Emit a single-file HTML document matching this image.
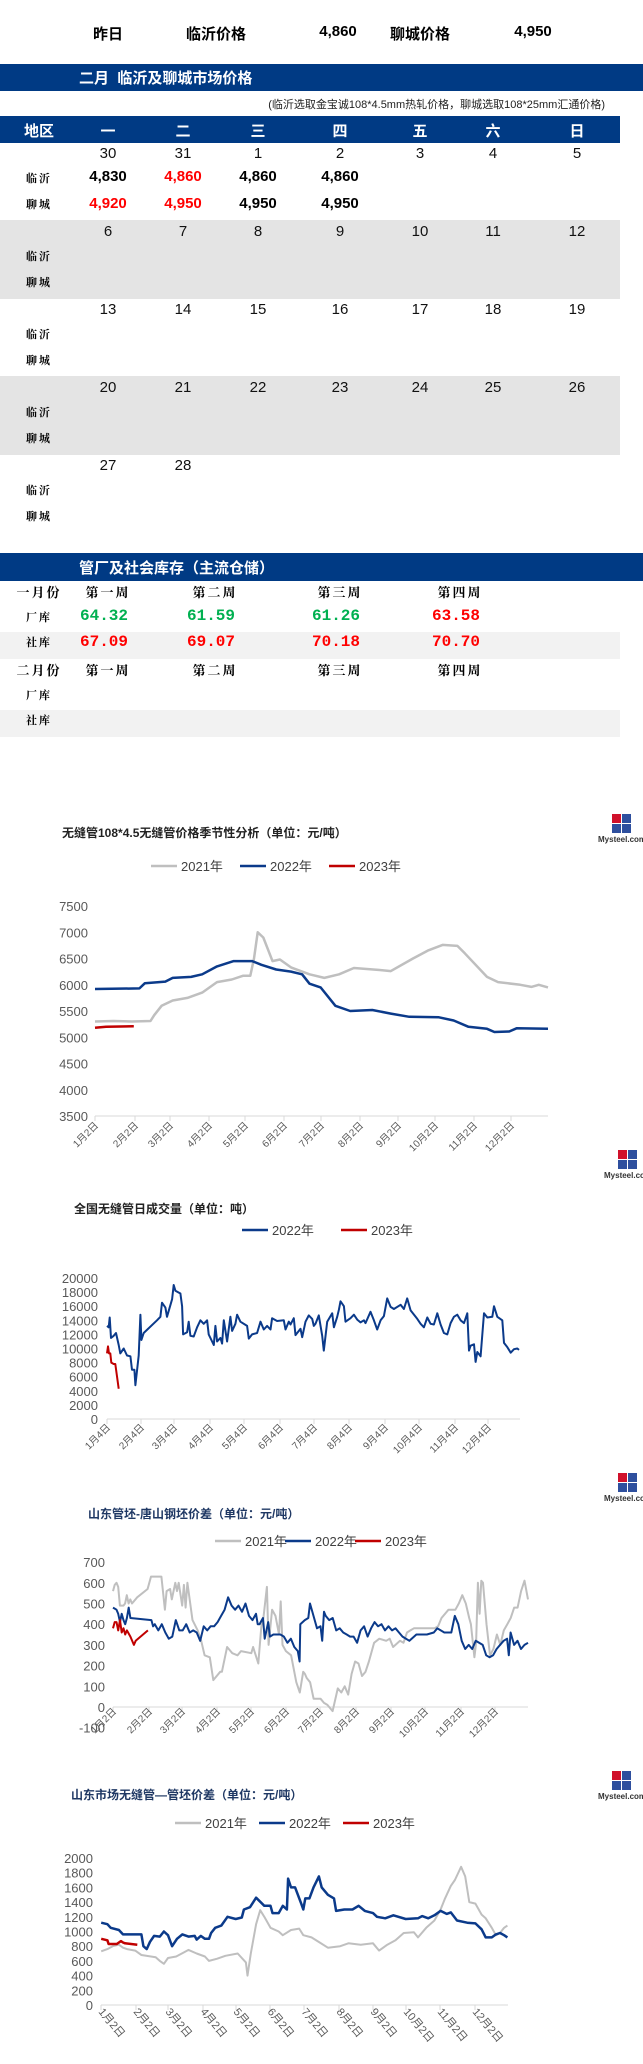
<!DOCTYPE html>
<html><head><meta charset="utf-8">
<style>
body{margin:0;background:#fff;}
#p{position:relative;width:643px;height:2064px;overflow:hidden;font-family:"Liberation Sans","Noto Sans CJK SC",sans-serif;}
.a{position:absolute;white-space:nowrap;}
.c{transform:translateX(-50%);}
.b{font-weight:bold;}
.lab{font-family:"Noto Serif CJK SC",serif;font-weight:bold;font-size:11px;letter-spacing:2px;}
.num{font-size:15px;font-weight:bold;}
.dt{font-size:15px;color:#111;}
.wk{font-family:"Noto Serif CJK SC",serif;font-weight:bold;font-size:13px;letter-spacing:2px;}
.iv{font-family:"Liberation Mono",monospace;font-size:16px;font-weight:bold;}
svg text{font-family:"Liberation Sans","Noto Sans CJK SC",sans-serif;}
</style></head><body><div id="p">
<div class="a b c" style="left:108px;top:23px;font-size:15px">昨日</div>
<div class="a b c" style="left:216px;top:23px;font-size:15px">临沂价格</div>
<div class="a b c" style="left:338px;top:23px;font-size:15px">4,860</div>
<div class="a b c" style="left:420px;top:23px;font-size:15px">聊城价格</div>
<div class="a b c" style="left:533px;top:23px;font-size:15px">4,950</div>
<div class="a" style="left:0;top:64px;width:643px;height:27px;background:#003a84"></div>
<div class="a b" style="left:79px;top:67px;color:#fff;font-size:15px">二月&nbsp; 临沂及聊城市场价格</div>
<div class="a" style="right:38px;top:96px;font-size:11px;color:#222">(临沂选取金宝诚108*4.5mm热轧价格，聊城选取108*25mm汇通价格)</div>
<div class="a" style="left:0;top:116px;width:620px;height:27px;background:#003a84"></div>
<div class="a b c" style="left:39px;top:120px;color:#fff;font-size:15px">地区</div>
<div class="a b c" style="left:108px;top:120px;color:#fff;font-size:15px">一</div>
<div class="a b c" style="left:183px;top:120px;color:#fff;font-size:15px">二</div>
<div class="a b c" style="left:258px;top:120px;color:#fff;font-size:15px">三</div>
<div class="a b c" style="left:340px;top:120px;color:#fff;font-size:15px">四</div>
<div class="a b c" style="left:420px;top:120px;color:#fff;font-size:15px">五</div>
<div class="a b c" style="left:493px;top:120px;color:#fff;font-size:15px">六</div>
<div class="a b c" style="left:577px;top:120px;color:#fff;font-size:15px">日</div>
<div class="a" style="left:0;top:220px;width:620px;height:79px;background:#e4e4e4"></div>
<div class="a" style="left:0;top:376px;width:620px;height:79px;background:#e4e4e4"></div>
<div id="cal"></div>
<div class="a" style="left:0;top:553px;width:643px;height:28px;background:#003a84"></div>
<div class="a b" style="left:79px;top:557px;color:#fff;font-size:15px">管厂及社会库存（主流仓储）</div>
<div class="a" style="left:0;top:632px;width:620px;height:27px;background:#f2f2f2"></div>
<div class="a" style="left:0;top:710px;width:620px;height:27px;background:#f2f2f2"></div>
<div id="inv"></div>
<svg id="sv" class="a" style="left:0;top:0" width="643" height="2064" xmlns="http://www.w3.org/2000/svg"></svg>
</div>
<script>
var cal=document.getElementById('cal'),h='';
var xs=[108,183,258,340,420,493,577];
var weeks=[[30,31,1,2,3,4,5],[6,7,8,9,10,11,12],[13,14,15,16,17,18,19],[20,21,22,23,24,25,26],[27,28]];
var tops=[145,223,301,379,457];
weeks.forEach(function(w,i){var t=tops[i];
w.forEach(function(d,j){h+='<div class="a c dt" style="left:'+xs[j]+'px;top:'+t+'px">'+d+'</div>';});
h+='<div class="a c lab" style="left:39px;top:'+(t+25)+'px">临沂</div><div class="a c lab" style="left:39px;top:'+(t+51)+'px">聊城</div>';});
var ly=[['4,830','#000'],['4,860','#f00'],['4,860','#000'],['4,860','#000']],lc=[['4,920','#f00'],['4,950','#f00'],['4,950','#000'],['4,950','#000']];
for(var j=0;j<4;j++){h+='<div class="a c num" style="left:'+xs[j]+'px;top:168px;color:'+ly[j][1]+'">'+ly[j][0]+'</div>';
h+='<div class="a c num" style="left:'+xs[j]+'px;top:195px;color:'+lc[j][1]+'">'+lc[j][0]+'</div>';}
cal.innerHTML=h;
h='';var ix=[108,215,340,460];var wk=['第一周','第二周','第三周','第四周'];
[[582,'一月份'],[660,'二月份']].forEach(function(r){h+='<div class="a c wk" style="left:39px;top:'+r[0]+'px">'+r[1]+'</div>';
ix.forEach(function(x,k){h+='<div class="a c wk" style="left:'+x+'px;top:'+r[0]+'px">'+wk[k]+'</div>';});
h+='<div class="a c lab" style="left:39px;top:'+(r[0]+27)+'px">厂库</div><div class="a c lab" style="left:39px;top:'+(r[0]+52)+'px">社库</div>';});
var g='#00b050',rd='#f00';
[['64.32',g],['61.59',g],['61.26',g],['63.58',rd]].forEach(function(v,k){h+='<div class="a c iv" style="left:'+(ix[k]-4)+'px;top:607px;color:'+v[1]+'">'+v[0]+'</div>';});
[['67.09',rd],['69.07',rd],['70.18',rd],['70.70',rd]].forEach(function(v,k){h+='<div class="a c iv" style="left:'+(ix[k]-4)+'px;top:633px;color:'+v[1]+'">'+v[0]+'</div>';});
document.getElementById('inv').innerHTML=h;

var S='';var GR='#bfbfbf',BL='#0b3a8a',RD='#c00000';
function line(pts,col,w){S+='<polyline fill="none" stroke="'+col+'" stroke-width="'+w+'" stroke-linejoin="round" points="'+pts.map(function(p){return p[0].toFixed(1)+','+p[1].toFixed(1)}).join(' ')+'"/>';}
function txt(x,y,s,attrs){S+='<text x="'+x+'" y="'+y+'" '+(attrs||'')+'>'+s+'</text>';}
var TA='font-size="12" font-weight="bold" font-family="Noto Serif CJK SC, serif"';
function logo(x,y){S+='<rect x="'+(x+24)+'" y="'+y+'" width="9" height="9" fill="#d0112b"/><rect x="'+(x+34)+'" y="'+y+'" width="9" height="9" fill="#2e4f9e"/><rect x="'+(x+24)+'" y="'+(y+10)+'" width="9" height="9" fill="#2e4f9e"/><rect x="'+(x+34)+'" y="'+(y+10)+'" width="9" height="9" fill="#2e4f9e"/>';
txt(x+10,y+28,'Mysteel.com','font-size="8" font-weight="bold" fill="#333"');}
function legend(y,items){items.forEach(function(it){S+='<line x1="'+it[0]+'" y1="'+y+'" x2="'+(it[0]+26)+'" y2="'+y+'" stroke="'+it[2]+'" stroke-width="2.5"/>';txt(it[0]+30,y+5,it[1],'font-size="13" fill="#404040"');});}
function yaxis(vals,xr,yf){vals.forEach(function(v){txt(xr,yf(v)+5,v,'font-size="13" fill="#595959" text-anchor="end"');});}
function xaxis(x0,x1,y,ticks,labs,ly,dir){S+='<line x1="'+x0+'" y1="'+y+'" x2="'+x1+'" y2="'+y+'" stroke="#d9d9d9"/>';
ticks.forEach(function(t,i){S+='<line x1="'+t+'" y1="'+y+'" x2="'+t+'" y2="'+(y+5)+'" stroke="#d9d9d9"/>';
if(dir<0)S+='<text font-size="10" fill="#595959" text-anchor="end" transform="translate('+(t+4)+','+ly+') rotate(-45)">'+labs[i]+'</text>';
else S+='<text font-size="11" fill="#595959" transform="translate('+(t-3)+','+ly+') rotate(50)">'+labs[i]+'</text>';});}
function mk(d){var m=[];for(var i=1;i<=12;i++)m.push(i+'月'+d+'日');return m;}
function tserie(arr,x0,x1,tmax,yf){return arr.map(function(p){return [x0+p[0]/tmax*(x1-x0),yf(p[1])];});}
function pairs(a){var r=[];for(var i=0;i<a.length;i+=2)r.push([a[i],a[i+1]]);return r;}

// Chart 1
txt(62,837,'无缝管108*4.5无缝管价格季节性分析（单位：元/吨）',TA+' fill="#222"');
logo(588,814);logo(594,1150);
legend(866,[[151,'2021年',GR],[240,'2022年',BL],[329,'2023年',RD]]);
var y1=function(v){return 1116-(v-3500)/500*26.25;};
yaxis([7500,7000,6500,6000,5500,5000,4500,4000,3500],88,y1);
xaxis(95,548,1116,[95,135,170,209,245,284,321,360,398,435,474,511],mk(2),1126,-1);
line(tserie(pairs([0,5300,.5,5310,1,5300,1.5,5310,1.6,5420,1.8,5600,2.1,5700,2.5,5750,2.9,5850,3.3,6050,3.7,6100,4,6170,4.2,6170,4.3,6500,4.4,7000,4.55,6900,4.8,6450,5,6480,5.3,6330,5.8,6200,6.2,6130,6.6,6200,7,6320,7.7,6280,8,6260,8.6,6500,9,6650,9.4,6760,9.8,6740,10,6600,10.6,6150,10.9,6050,11.5,6000,11.8,5960,12,6000,12.25,5950]),95,548,12.25,y1),GR,2.5);
line(tserie(pairs([0,5920,1.2,5930,1.35,6030,1.9,6060,2.1,6130,2.6,6150,2.9,6200,3.3,6350,3.75,6450,4.25,6450,4.5,6380,4.9,6290,5.3,6250,5.6,6200,5.8,6020,6.1,5950,6.5,5600,6.9,5500,7.5,5520,8,5450,8.5,5390,9.3,5380,9.7,5320,10.1,5200,10.6,5160,10.8,5100,11.2,5110,11.4,5170,12.25,5160]),95,548,12.25,y1),BL,2.5);
line(tserie(pairs([0,5180,.3,5200,1.05,5210]),95,548,12.25,y1),RD,2.5);

// Chart 2
txt(74,1213,'全国无缝管日成交量（单位：吨）',TA+' fill="#222"');
legend(1230,[[242,'2022年',BL],[341,'2023年',RD]]);
var y2=function(v){return 1419-v/20000*141;};
yaxis([20000,18000,16000,14000,12000,10000,8000,6000,4000,2000,0],98,y2);
xaxis(107,520,1419,[107,141,174,210,244,280,314,349,385,419,455,488],mk(4),1428,-1);
line(tserie(pairs([0,13200,.05,13000,.08,14400,.12,11500,.2,11800,.27,12200,.35,10500,.4,9300,.5,10000,.6,9000,.7,8900,.75,7000,.82,7000,.85,4800,.95,9000,1.0,14800,1.03,11200,1.1,12200,1.5,14000,1.6,14500,1.65,16500,1.75,15800,1.8,14500,1.95,17000,2.0,19000,2.05,18200,2.2,17800,2.25,16000,2.28,12000,2.4,12300,2.45,13800,2.5,11800,2.6,11700,2.7,13000,2.8,14000,2.9,13500,3.0,14000,3.05,12000,3.2,10500,3.25,13200,3.3,11000,3.4,11500,3.45,10700,3.5,14000,3.6,11000,3.7,14500,3.75,12500,3.85,13500,3.9,14800,4.0,13800,4.2,13200,4.25,11400,4.35,12000,4.5,12200,4.6,13800,4.7,12700,4.8,13200,4.9,12700,4.95,14300,5.1,13900,5.3,14000,5.35,12700,5.45,13800,5.5,13400,5.6,14300,5.65,11900,5.8,12800,5.85,11600,5.95,13800,6.05,14700,6.15,14200,6.2,13200,6.25,13500,6.35,14700,6.45,11800,6.5,9700,6.6,13800,6.75,15000,6.8,13000,6.9,14500,6.95,15500,7.0,16700,7.1,16000,7.15,13800,7.3,14300,7.4,14800,7.5,14100,7.6,13700,7.7,14000,7.75,13600,7.9,15200,8.0,14000,8.1,12700,8.2,14000,8.3,14600,8.4,17100,8.5,15900,8.6,15600,8.8,16200,8.9,15600,9.0,17100,9.1,15400,9.3,14200,9.4,13500,9.5,13000,9.6,14400,9.7,13500,9.8,13400,9.9,15000,10.0,13400,10.1,12200,10.2,12000,10.3,13600,10.4,14500,10.5,14800,10.6,14000,10.7,13600,10.8,15000,10.85,9700,10.9,10400,11.0,10600,11.05,8100,11.1,9500,11.2,8900,11.3,15000,11.4,14400,11.55,14500,11.6,16000,11.7,14500,11.85,14000,11.9,10800,12.0,10200,12.1,9400,12.2,9900,12.3,10000,12.35,9800]),107,519,12.35,y2),BL,2);
line(tserie(pairs([0,9300,.03,10300,.06,9300,.1,9300,.13,8000,.2,7800,.25,7800,.35,4300]),107,519,12.35,y2),RD,2);

// Chart 3
logo(594,1473);
txt(88,1518,'山东管坯-唐山钢坯价差（单位：元/吨）',TA+' fill="#1f3864"');
legend(1541,[[215,'2021年',GR],[285,'2022年',BL],[355,'2023年',RD]]);
var y3=function(v){return 1707-v/100*20.7;};
yaxis([700,600,500,400,300,200,100,0,-100],105,y3);
xaxis(113,528,1707,[113,149,182,217,251,286,320,356,391,425,461,495],mk(2),1712,-1);
line(tserie(pairs([0,560,.05,590,.1,600,.15,580,.2,490,.3,490,.35,500,.4,540,.45,500,.5,520,.55,500,.7,530,1.0,570,1.05,600,1.1,630,1.4,630,1.5,470,1.55,560,1.65,570,1.7,520,1.8,600,1.85,560,1.9,600,2.0,490,2.05,590,2.1,480,2.15,600,2.3,420,2.45,370,2.55,320,2.65,250,2.8,240,2.9,130,3.1,170,3.15,170,3.3,290,3.45,260,3.6,250,3.7,270,4.0,260,4.05,290,4.2,210,4.3,410,4.35,430,4.45,580,4.5,300,4.6,470,4.7,440,4.8,350,4.85,510,4.9,300,5.0,270,5.15,250,5.3,120,5.4,70,5.5,170,5.55,160,5.6,140,5.7,120,5.8,40,6.0,40,6.1,20,6.2,10,6.35,-20,6.5,90,6.6,70,6.7,100,6.8,60,6.9,160,7.0,220,7.1,210,7.2,150,7.3,170,7.4,220,7.55,310,7.7,330,7.9,320,8.0,330,8.1,290,8.3,320,8.4,310,8.5,360,8.6,370,8.7,380,9.3,380,9.4,390,9.5,430,9.7,470,9.9,470,10.0,500,10.1,540,10.2,500,10.3,430,10.35,400,10.45,240,10.5,310,10.55,600,10.6,450,10.65,610,10.7,600,10.8,400,10.9,250,11.0,280,11.1,350,11.2,300,11.3,370,11.4,400,11.5,430,11.6,480,11.7,480,11.8,560,11.9,610,12.0,520]),113,528,12,y3),GR,2);
line(tserie(pairs([0,480,.1,470,.15,450,.2,410,.25,450,.3,420,.35,400,.4,430,.45,480,.5,430,1.1,420,1.15,390,1.2,400,1.3,370,1.4,400,1.5,360,1.6,330,1.7,340,1.8,420,1.9,370,2.0,370,2.1,400,2.2,360,2.3,370,2.4,360,2.5,320,2.6,390,2.7,370,2.8,390,2.9,390,3.0,410,3.1,440,3.2,470,3.3,530,3.4,490,3.5,470,3.6,490,3.7,460,3.8,500,3.9,440,4.0,420,4.1,450,4.15,400,4.2,400,4.3,430,4.35,330,4.45,410,4.5,340,4.6,350,4.8,350,4.9,340,5.0,310,5.1,330,5.2,290,5.3,270,5.35,220,5.37,400,5.5,420,5.6,430,5.65,500,5.75,440,5.85,380,5.95,390,6.0,320,6.05,460,6.1,440,6.2,420,6.3,430,6.4,370,6.5,380,6.6,360,6.7,350,6.8,340,6.9,340,7.0,310,7.1,370,7.2,390,7.3,340,7.4,380,7.5,410,7.6,390,7.7,400,7.8,370,7.9,390,8.0,370,8.1,380,8.2,360,8.3,340,8.5,320,8.7,350,9.0,350,9.2,360,9.3,380,9.5,360,9.7,360,9.8,440,9.9,400,10.0,320,10.1,280,10.2,300,10.3,280,10.4,320,10.6,300,10.7,250,10.8,240,10.9,250,11.0,280,11.1,300,11.2,320,11.3,330,11.35,250,11.4,360,11.5,300,11.6,320,11.7,280,11.8,300,11.9,310]),113,528,11.9,y3),BL,2);
line(tserie(pairs([0,380,.05,410,.1,410,.15,370,.2,420,.25,360,.3,380,.35,350,.4,370,.5,340,.6,300,.65,320,1.0,370]),113,528,11.9,y3),RD,2);

// Chart 4
logo(588,1771);
txt(71,1799,'山东市场无缝管—管坯价差（单位：元/吨）',TA+' fill="#1f3864"');
legend(1823,[[175,'2021年',GR],[259,'2022年',BL],[343,'2023年',RD]]);
var y4=function(v){return 2005-v/2000*147;};
yaxis([2000,1800,1600,1400,1200,1000,800,600,400,200,0],93,y4);
xaxis(101,508,2005,[101,136,168,203,236,270,304,339,373,406,440,475],mk(2),2012,1);
function zs(a){return pairs(a).map(function(p){return [p[0]/2.44,y4(p[1])];});}
line(zs([247,730,262,760,275,800,290,820,300,780,310,760,330,740,345,680,380,650,390,600,400,560,410,640,430,660,450,720,460,750,480,700,500,660,510,600,530,630,550,670,580,700,600,580,604,400,612,700,625,1100,635,1290,645,1200,660,1050,680,1000,690,950,710,1020,730,1040,740,950,760,920,780,850,800,780,830,800,850,840,880,820,910,840,925,740,945,820,965,880,985,980,1010,990,1020,920,1040,1050,1060,1150,1075,1300,1085,1440,1100,1620,1110,1700,1125,1880,1135,1750,1145,1400,1160,1380,1175,1230,1185,1180,1200,1050,1210,950,1220,980,1230,1050,1238,1080]),GR,2);
line(zs([247,1120,262,1100,270,1050,290,1020,300,960,345,960,350,800,358,760,366,860,376,940,390,930,400,1000,410,950,420,800,432,900,445,960,460,930,475,940,480,890,490,940,500,900,510,900,515,980,525,1050,540,1080,555,1200,575,1170,590,1190,595,1300,610,1330,625,1460,645,1350,660,1350,665,1250,680,1250,690,1350,700,1300,703,1720,710,1600,720,1600,735,1380,740,1300,745,1450,755,1450,765,1600,778,1750,785,1600,800,1500,815,1450,820,1280,840,1300,860,1300,875,1350,890,1280,910,1250,920,1200,940,1180,960,1220,990,1170,1020,1180,1030,1210,1045,1180,1060,1220,1075,1280,1090,1240,1100,1260,1115,1150,1140,1120,1160,1110,1175,1030,1185,920,1200,920,1210,960,1220,980,1230,950,1238,920]),BL,2.5);
line(zs([247,900,262,880,265,830,285,830,295,870,300,850,305,840,335,820]),RD,2.5);
document.getElementById('sv').innerHTML=S;
</script>
</body></html>
